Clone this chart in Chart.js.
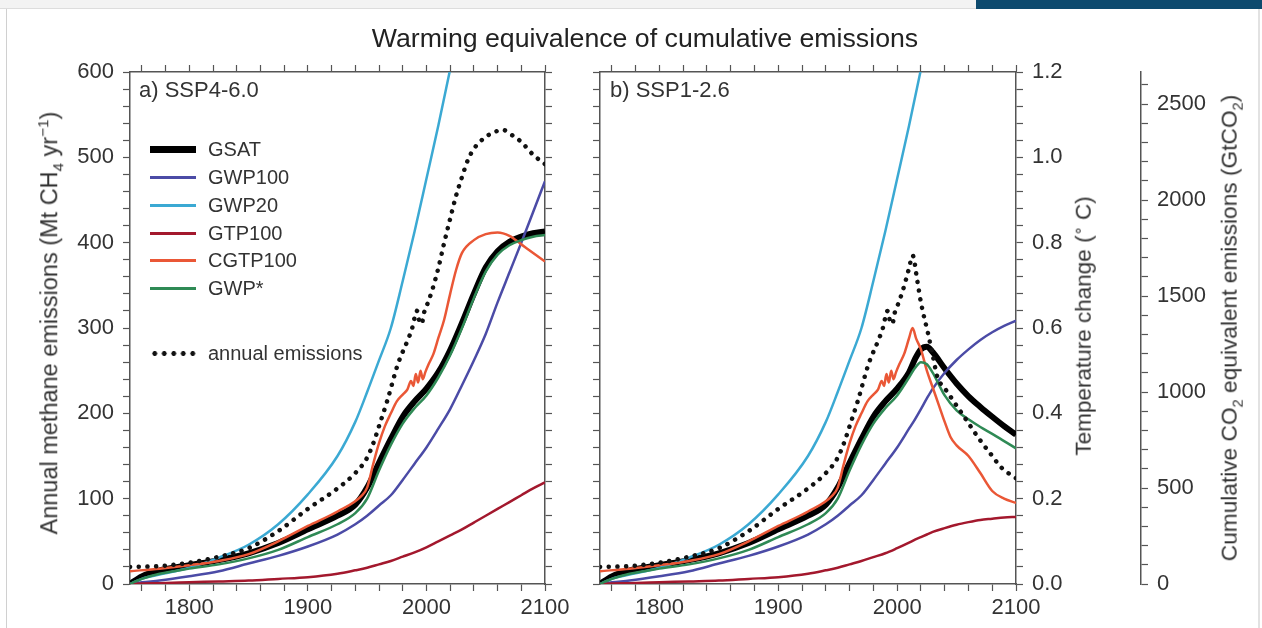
<!DOCTYPE html>
<html>
<head>
<meta charset="utf-8">
<script src="https://cdn.jsdelivr.net/npm/chart.js@4.4.1/dist/chart.umd.min.js"></script>
<style>
  body { margin: 0; width: 1262px; height: 628px; position: relative; overflow: hidden; background: #fff;
         font-family: "Liberation Sans", Arial, sans-serif; color: #333; }
  canvas { position: absolute; top: 0; }
  #chartA { left: 0; }
  #chartB { left: 575px; }
  .txt { position: absolute; white-space: nowrap; font-size: 22px; line-height: 1; }
  .center { transform: translate(-50%, -50%); }
  .rot { transform: translate(-50%, -50%) rotate(-90deg); }
  .leg-row { position: absolute; left: 150px; height: 28px; display: flex; align-items: center; font-size: 20px; }
  .leg-line { width: 46px; margin-right: 12px; }
  sub, sup { font-size: 65%; line-height: 0; }
</style>
</head>
<body>
<div style="position:absolute;left:0;top:0;width:976px;height:8px;background:#f3f3f3;border-bottom:1px solid #ddd"></div>
<div style="position:absolute;left:976px;top:0;width:286px;height:9px;background:#0d4a6e"></div>
<div style="position:absolute;left:6px;top:9px;width:1px;height:619px;background:#d0d0d0"></div>
<div style="position:absolute;left:1258px;top:9px;width:2px;height:619px;background:#e2e2e2"></div>

<canvas id="chartA" width="575" height="628"></canvas>
<canvas id="chartB" width="687" height="628"></canvas>

<div class="txt center" style="left:645px;top:38px;font-size:26.7px;color:#222">Warming equivalence of cumulative emissions</div>
<div class="txt" style="left:139px;top:79px">a) SSP4-6.0</div>
<div class="txt" style="left:610px;top:79px">b) SSP1-2.6</div>
<div class="txt rot" style="left:50px;top:323px;font-size:23.5px">Annual methane emissions (Mt CH<sub>4</sub> yr<sup>−1</sup>)</div>
<div class="txt rot" style="left:1084px;top:326px;font-size:22.5px">Temperature change (<sup>∘</sup> C)</div>
<div class="txt rot" style="left:1229px;top:328px;font-size:22.7px">Cumulative CO<sub>2</sub> equivalent emissions (GtCO<sub>2</sub>)</div>
<div id="legend"></div>

<script>
// years sampled along the curves
const years = [1750, 1760, 1775, 1800, 1825, 1850, 1875, 1900, 1925, 1940, 1950, 1960, 1970, 1980, 1990, 2000, 2010, 2020, 2030, 2040, 2050, 2060, 2070, 2080, 2090, 2100];
const yearsGwp20 = [1750, 1760, 1775, 1800, 1825, 1850, 1875, 1900, 1925, 1940, 1950, 1960, 1970, 1980, 1990, 2000, 2010, 2020];
const cgtpYearsA = [1750, 1775, 1800, 1825, 1850, 1875, 1900, 1925, 1945, 1950, 1955, 1960, 1965, 1970, 1975, 1980, 1984, 1987, 1989, 1991, 1993, 1995, 1997, 1999, 2002, 2006, 2010, 2015, 2020, 2025, 2030, 2040, 2050, 2060, 2070, 2080, 2090, 2100];
const emisYearsA = [1750, 1775, 1800, 1825, 1850, 1875, 1900, 1925, 1940, 1950, 1956, 1960, 1967, 1976, 1984, 1988, 1990, 1992, 1994, 1996, 1998, 2000, 2005, 2010, 2015, 2020, 2025, 2030, 2035, 2040, 2045, 2050, 2060, 2065, 2070, 2080, 2090, 2100];
const yearsB = [1750, 1760, 1775, 1800, 1825, 1850, 1875, 1900, 1925, 1940, 1950, 1960, 1970, 1980, 1990, 2000, 2010, 2015, 2020, 2025, 2030, 2040, 2050, 2060, 2070, 2080, 2090, 2100];
const cgtpYearsB = [1750, 1775, 1800, 1825, 1850, 1875, 1900, 1925, 1945, 1950, 1955, 1960, 1965, 1970, 1975, 1980, 1984, 1987, 1989, 1991, 1993, 1995, 1997, 1999, 2002, 2006, 2010, 2013, 2016, 2020, 2025, 2030, 2035, 2040, 2045, 2050, 2060, 2070, 2080, 2090, 2100];
const emisYearsB = [1750, 1775, 1800, 1825, 1850, 1875, 1900, 1925, 1940, 1950, 1956, 1960, 1967, 1976, 1984, 1988, 1990, 1992, 1994, 1996, 1998, 2000, 2005, 2010, 2013, 2017, 2020, 2026, 2030, 2034, 2040, 2051, 2060, 2068, 2080, 2088, 2100];

// a) SSP4-6.0, Mt CH4 per year
const gsatA    = [0, 9, 16, 22, 28, 36, 48, 64, 80, 93, 113, 142, 170, 196, 214, 229, 248, 274, 306, 340, 371, 390, 401, 407, 411, 413];
const gwp100A  = [0, 2, 4, 9, 15, 24, 33, 44, 58, 70, 80, 92, 104, 122, 141, 160, 182, 205, 233, 262, 293, 330, 365, 400, 436, 472];
const gwp20A   = [0, 6, 11, 19, 31, 46, 70, 105, 150, 190, 225, 262, 300, 355, 413, 475, 537, 603];
const gtp100A  = [0, 0.5, 1, 2, 3, 4, 6, 8, 12, 16, 19, 23, 27, 32, 37, 43, 50, 57, 64, 72, 80, 88, 96, 104, 112, 119];
const cgtp100A = [15, 18, 22, 27, 35, 50, 68, 85, 103, 113, 140, 165, 185, 200, 214, 222, 228, 238, 232, 246, 236, 250, 240, 248, 258, 270, 288, 310, 340, 368, 388, 403, 410, 412, 408, 398, 388, 378];
const gwpStarA = [0, 6, 12, 18, 23, 30, 40, 55, 70, 83, 100, 133, 163, 188, 206, 221, 242, 268, 300, 335, 366, 386, 397, 403, 407, 409];
const emisA    = [20, 21, 25, 32, 42, 62, 88, 112, 130, 148, 168, 185, 215, 258, 285, 300, 312, 320, 308, 305, 318, 325, 345, 370, 400, 428, 455, 477, 497, 510, 518, 524, 531, 532, 528, 518, 503, 492];

// b) SSP1-2.6, temperature change in degrees C
const gsatB    = [0, 0.018, 0.032, 0.044, 0.056, 0.072, 0.096, 0.128, 0.16, 0.186, 0.226, 0.284, 0.34, 0.392, 0.428, 0.458, 0.496, 0.527, 0.55, 0.556, 0.543, 0.505, 0.47, 0.44, 0.415, 0.392, 0.37, 0.35];
const gwp100B  = [0, 0.004, 0.008, 0.018, 0.03, 0.048, 0.066, 0.088, 0.116, 0.14, 0.16, 0.184, 0.208, 0.244, 0.282, 0.32, 0.364, 0.386, 0.41, 0.435, 0.458, 0.495, 0.525, 0.55, 0.572, 0.59, 0.605, 0.617];
const gwp20B   = [0, 0.012, 0.022, 0.038, 0.062, 0.092, 0.14, 0.21, 0.3, 0.38, 0.45, 0.524, 0.6, 0.71, 0.826, 0.95, 1.074, 1.206];
const gtp100B  = [0, 0.001, 0.002, 0.004, 0.006, 0.008, 0.012, 0.016, 0.024, 0.032, 0.038, 0.046, 0.054, 0.063, 0.072, 0.084, 0.097, 0.104, 0.11, 0.116, 0.122, 0.131, 0.139, 0.145, 0.15, 0.153, 0.156, 0.157];
const cgtp100B = [0.03, 0.036, 0.044, 0.054, 0.07, 0.1, 0.136, 0.17, 0.206, 0.226, 0.28, 0.33, 0.37, 0.4, 0.428, 0.444, 0.456, 0.476, 0.464, 0.492, 0.472, 0.5, 0.48, 0.496, 0.516, 0.54, 0.576, 0.6, 0.575, 0.55, 0.5, 0.46, 0.42, 0.38, 0.344, 0.325, 0.3, 0.26, 0.218, 0.2, 0.19];
const gwpStarB = [0, 0.012, 0.024, 0.036, 0.046, 0.06, 0.08, 0.11, 0.14, 0.166, 0.2, 0.266, 0.326, 0.376, 0.412, 0.442, 0.484, 0.506, 0.52, 0.515, 0.495, 0.442, 0.407, 0.386, 0.368, 0.352, 0.335, 0.318];
const emisB    = [0.04, 0.042, 0.05, 0.064, 0.084, 0.124, 0.176, 0.224, 0.26, 0.296, 0.336, 0.37, 0.43, 0.516, 0.57, 0.6, 0.624, 0.64, 0.616, 0.61, 0.636, 0.65, 0.69, 0.74, 0.77, 0.71, 0.66, 0.587, 0.535, 0.484, 0.459, 0.414, 0.377, 0.344, 0.3, 0.272, 0.248];

const seriesNames  = ['GSAT', 'GWP100', 'GWP20', 'GTP100', 'CGTP100', 'GWP*'];
const seriesColors = ['#000000', '#4b4ba6', '#3ba9d3', '#a3182d', '#ea5736', '#2f8a55'];

const axisColor = '#555';
const tickFont = { family: '"Liberation Sans", Arial, sans-serif', size: 22 };

function pts(xs, ys) {
    return xs.map((x, i) => ({ x: x, y: ys[i] }));
}

function lineSet(label, data, color, width, order) {
    return {
        label: label, data: data, borderColor: color, borderWidth: width, order: order,
        pointRadius: 0, fill: false, cubicInterpolationMode: 'monotone', borderJoinStyle: 'round'
    };
}

function buildDatasets(p) {
    const emis = lineSet('annual emissions', p.emis, '#111', 4.5, 0);
    emis.borderDash = [0.1, 8.6];
    emis.borderCapStyle = 'round';
    return [
        lineSet(seriesNames[0], p.gsat, seriesColors[0], 6, 6),
        lineSet(seriesNames[1], p.gwp100, seriesColors[1], 2.5, 5),
        lineSet(seriesNames[2], p.gwp20, seriesColors[2], 2.5, 4),
        lineSet(seriesNames[3], p.gtp100, seriesColors[3], 2.5, 3),
        lineSet(seriesNames[4], p.cgtp100, seriesColors[4], 2.5, 2),
        lineSet(seriesNames[5], p.gwpStar, seriesColors[5], 2.5, 1),
        emis
    ];
}

// an axis with outward tick marks; size fixes its box so both panels line up
function axis(position, min, max, step, size, labelFn, extra) {
    const horizontal = position === 'top' || position === 'bottom';
    return Object.assign({
        type: 'linear', position: position, min: min, max: max,
        border: { display: true, color: axisColor, width: 1.5 },
        grid: { drawOnChartArea: false, drawTicks: true, tickLength: 7, color: axisColor, tickWidth: 1.2 },
        ticks: {
            display: !!labelFn, stepSize: step, autoSkip: false, maxRotation: 0, includeBounds: false,
            color: '#333', font: tickFont, padding: horizontal ? 4 : 9,
            callback: labelFn || (() => '')
        },
        afterFit: s => { if (horizontal) s.height = size; else s.width = size; }
    }, extra || {});
}

const yearLabel = v => (v % 100 === 0 ? String(v) : '');

const commonOptions = {
    responsive: false,
    animation: false,
    plugins: { legend: { display: false }, tooltip: { enabled: false } }
};

new Chart(document.getElementById('chartA'), {
    type: 'line',
    data: {
        datasets: buildDatasets({
            gsat: pts(years, gsatA), gwp100: pts(years, gwp100A), gwp20: pts(yearsGwp20, gwp20A),
            gtp100: pts(years, gtp100A), cgtp100: pts(cgtpYearsA, cgtp100A),
            gwpStar: pts(years, gwpStarA), emis: pts(emisYearsA, emisA)
        })
    },
    options: Object.assign({}, commonOptions, {
        layout: { padding: { top: 65, right: 23, left: 0, bottom: 0 } },
        scales: {
            x: axis('bottom', 1750, 2100, 20, 44, yearLabel),
            xTop: axis('top', 1750, 2100, 20, 7, null),
            y: axis('left', 0, 600, 20, 130, v => (v % 100 === 0 ? String(v) : '')),
            yRight: axis('right', 0, 600, 20, 7, null)
        }
    })
});

new Chart(document.getElementById('chartB'), {
    type: 'line',
    data: {
        datasets: buildDatasets({
            gsat: pts(yearsB, gsatB), gwp100: pts(yearsB, gwp100B), gwp20: pts(yearsGwp20, gwp20B),
            gtp100: pts(yearsB, gtp100B), cgtp100: pts(cgtpYearsB, cgtp100B),
            gwpStar: pts(yearsB, gwpStarB), emis: pts(emisYearsB, emisB)
        })
    },
    options: Object.assign({}, commonOptions, {
        layout: { padding: { top: 65, right: 41, left: 18, bottom: 0 } },
        scales: {
            x: axis('bottom', 1750, 2100, 20, 44, yearLabel),
            xTop: axis('top', 1750, 2100, 20, 7, null),
            y: axis('left', 0, 1.2, 0.04, 7, null),
            yTemp: axis('right', 0, 1.2, 0.04, 125, v => {
                const r = Math.round(v * 5);
                return Math.abs(v * 5 - r) < 1e-6 ? (r / 5).toFixed(1) : '';
            }, { weight: 1 }),
            yCum: axis('right', 0, 2667, 100, 80, v => (v % 500 === 0 ? String(v) : ''), { weight: 2 })
        }
    })
});

// legend inside panel a
const legend = document.getElementById('legend');
const rowTops = [135, 163, 191, 219, 246, 274];
seriesNames.forEach((name, i) => {
    const row = document.createElement('div');
    row.className = 'leg-row';
    row.style.top = rowTops[i] + 'px';
    const h = i === 0 ? 7 : 3;
    row.innerHTML = '<div class="leg-line" style="height:' + h + 'px;background:' + seriesColors[i] + '"></div>' + name;
    legend.appendChild(row);
});
const emisRow = document.createElement('div');
emisRow.className = 'leg-row';
emisRow.style.top = '339px';
emisRow.innerHTML = '<div class="leg-line" style="height:5px;background:radial-gradient(circle, #111 2.2px, transparent 2.7px) 0 0 / 9.5px 5px repeat-x"></div>annual emissions';
legend.appendChild(emisRow);
</script>
</body>
</html>
